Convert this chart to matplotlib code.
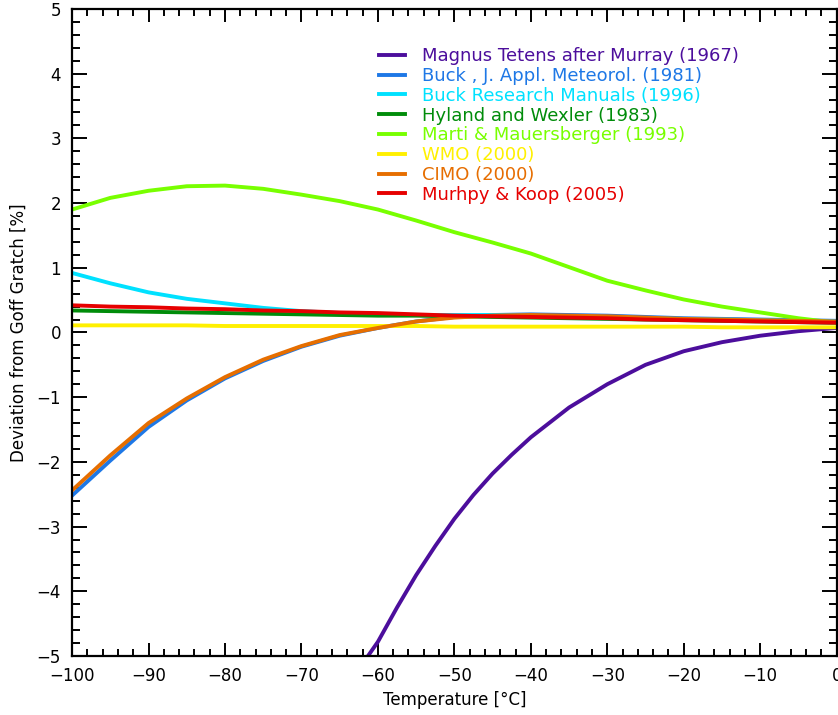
import numpy as np
import matplotlib
matplotlib.use("Agg")
import matplotlib.pyplot as plt
from matplotlib.ticker import MultipleLocator

# temperature grid, degrees C
temps = [-100, -95, -90, -85, -80, -75, -70, -65, -60, -55, -50,
         -45, -40, -35, -30, -25, -20, -15, -10, -5, 0]

# Magnus formula only shown where it stays inside the y range
magnus_temps = [-61.3, -60, -57.5, -55, -52.5, -50, -47.5, -45, -42.5, -40,
                -35, -30, -25, -20, -15, -10, -5, 0]
magnus = [-5.0, -4.78, -4.25, -3.75, -3.30, -2.88, -2.51, -2.18, -1.89, -1.62,
          -1.16, -0.80, -0.50, -0.29, -0.15, -0.05, 0.02, 0.07]

buck_1981 = [-2.52, -1.98, -1.46, -1.05, -0.71, -0.44, -0.22, -0.05, 0.07, 0.17, 0.24,
             0.27, 0.28, 0.27, 0.26, 0.24, 0.22, 0.21, 0.20, 0.19, 0.18]
buck_1996 = [0.92, 0.76, 0.62, 0.52, 0.45, 0.38, 0.33, 0.30, 0.28, 0.27, 0.27,
             0.27, 0.26, 0.25, 0.24, 0.22, 0.21, 0.20, 0.19, 0.18, 0.17]
hyland_wexler = [0.34, 0.33, 0.32, 0.31, 0.30, 0.29, 0.28, 0.27, 0.26, 0.26, 0.25,
                 0.24, 0.23, 0.22, 0.21, 0.20, 0.19, 0.18, 0.17, 0.16, 0.15]
marti = [1.90, 2.08, 2.19, 2.26, 2.27, 2.22, 2.13, 2.03, 1.90, 1.73, 1.55,
         1.39, 1.22, 1.01, 0.80, 0.65, 0.51, 0.40, 0.31, 0.22, 0.15]
wmo = [0.11, 0.11, 0.11, 0.11, 0.10, 0.10, 0.10, 0.10, 0.10, 0.10, 0.09,
       0.09, 0.09, 0.09, 0.09, 0.09, 0.09, 0.08, 0.08, 0.08, 0.08]
cimo = [-2.44, -1.90, -1.40, -1.02, -0.69, -0.42, -0.21, -0.04, 0.07, 0.17, 0.23,
        0.26, 0.27, 0.26, 0.25, 0.23, 0.21, 0.20, 0.19, 0.18, 0.17]
murphy_koop = [0.42, 0.40, 0.39, 0.37, 0.36, 0.34, 0.33, 0.31, 0.30, 0.28, 0.26,
               0.25, 0.24, 0.23, 0.22, 0.20, 0.19, 0.18, 0.17, 0.16, 0.15]

series = [
    ("Magnus Tetens after Murray (1967)", magnus_temps, magnus, "#4c0e9c"),
    ("Buck , J. Appl. Meteorol. (1981)", temps, buck_1981, "#1e78e6"),
    ("Buck Research Manuals (1996)", temps, buck_1996, "#00e1ff"),
    ("Hyland and Wexler (1983)", temps, hyland_wexler, "#008c0a"),
    ("Marti & Mauersberger (1993)", temps, marti, "#78ff00"),
    ("WMO (2000)", temps, wmo, "#fff000"),
    ("CIMO (2000)", temps, cimo, "#e66e00"),
    ("Murhpy & Koop (2005)", temps, murphy_koop, "#e60000"),
]

fig = plt.figure(figsize=(8.38, 7.15), dpi=100)
ax = fig.add_axes([0.086, 0.0825, 0.9124, 0.905])

for label, x, y, color in series:
    ax.plot(x, y, color=color, lw=2.8, label=label)

ax.set_xlim(-100, 0)
ax.set_ylim(-5, 5)
ax.xaxis.set_major_locator(MultipleLocator(10))
ax.xaxis.set_minor_locator(MultipleLocator(2))
ax.yaxis.set_major_locator(MultipleLocator(1))
ax.yaxis.set_minor_locator(MultipleLocator(0.2))
ax.tick_params(axis="both", which="both", direction="in", top=True, right=True,
               width=1.4, labelsize=12, colors="black")
ax.tick_params(axis="y", which="major", length=11, pad=8)
ax.tick_params(axis="y", which="minor", length=5.5)
ax.tick_params(axis="x", which="major", length=9.5, pad=8)
ax.tick_params(axis="x", which="minor", length=5)
for sp in ax.spines.values():
    sp.set_linewidth(1.6)

ax.set_xlabel("Temperature [°C]", fontsize=12, labelpad=4)
ax.set_ylabel("Deviation from Goff Gratch [%]", fontsize=12, labelpad=6)

leg = ax.legend(loc="upper left", bbox_to_anchor=(0.39, 0.955), frameon=False,
                fontsize=13, handlelength=1.4, handletextpad=0.95,
                labelspacing=0.1, borderpad=0, labelcolor="linecolor")

fig.savefig("out.png", dpi=100)
